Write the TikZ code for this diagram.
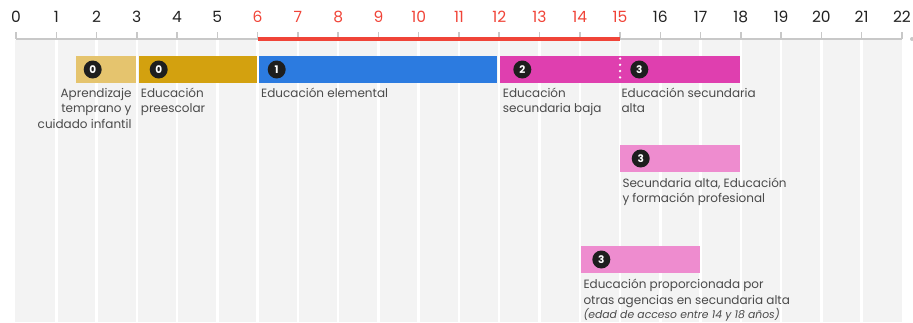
\documentclass[tikz,border=0pt]{standalone}
\usepackage{fontspec}
\setmainfont{Poppins}
\definecolor{stripe}{HTML}{F3F3F3}
\definecolor{axisgray}{HTML}{C8C8C8}
\definecolor{axisred}{HTML}{F04438}
\definecolor{numblack}{HTML}{222222}
\definecolor{labelgray}{HTML}{4A4A4A}
\definecolor{goldlight}{HTML}{E5C46E}
\definecolor{gold}{HTML}{D3A10F}
\definecolor{blueb}{HTML}{2C7BE0}
\definecolor{magentab}{HTML}{DF3FAF}
\definecolor{pinkb}{HTML}{EE8CCF}
\definecolor{badgeblack}{HTML}{1E1E1E}
\tikzset{
  bar/.style={draw=none, inner sep=0pt, outer sep=0pt, minimum height=27pt, anchor=north west},
  badge/.style={circle, fill=badgeblack, text=white, inner sep=0pt, minimum size=18pt, font=\fontsize{10.5}{10.5}\selectfont\bfseries},
  lbl/.style={text=labelgray, inner sep=0pt, font=\fontsize{12}{15.3}\selectfont, align=left, anchor=base west},
  num/.style={text=numblack, inner sep=0pt, font=\fontsize{15.5}{15.5}\selectfont},
}
\begin{document}
\begin{tikzpicture}[x=1pt,y=-1pt]
\useasboundingbox (0,0) rectangle (913,322);
% background stripes
\fill[stripe] (15,40) rectangle (902,322);
\foreach \k in {1,...,21}{
  \draw[white, line width=2.5pt] ({16+40.27*\k},40) -- ({16+40.27*\k},322);
}
% axis
\draw[axisgray, line width=2pt] (16,38.5) -- (901.9,38.5);
\foreach \k in {0,...,22}{
  \draw[axisgray, line width=1.5pt] ({16+40.27*\k},32) -- ({16+40.27*\k},38.5);
}
\fill[axisgray] (912,39) circle (2pt);
\draw[axisred, line width=4pt] (257.6,38.5) -- (620.05,38.5);
% numbers
\foreach \k in {0,...,22}{
  \ifnum\k<6 \def\nc{numblack}\else\ifnum\k>15 \def\nc{numblack}\else\def\nc{axisred}\fi\fi
  \node[num, text=\nc] (n\k) at ({16+40.27*\k},17) {\k};
}
% bars row 1
\node[bar, fill=goldlight, minimum width=59.6pt] (b0a) at (76.4,56) {};
\node[bar, fill=gold, minimum width=117.8pt] (b0b) at (139,56) {};
\node[bar, fill=blueb, minimum width=238pt] (b1) at (259,56) {};
\node[bar, fill=magentab, minimum width=239.5pt] (b23) at (500,56) {};
\foreach \yy in {58.5,64.8,71.1,77.4}{
  \fill[white] (620.05,\yy) circle (1.3pt);
}
% bars row 2, 3
\node[bar, fill=pinkb, minimum width=119.5pt] (b3v) at (620,145) {};
\node[bar, fill=pinkb, minimum width=118.5pt] (b3o) at (581,246) {};
% badges
\node[badge] (c0a) at (92.7,69.5) {0};
\node[badge] (c0b) at (158.7,69.5) {0};
\node[badge] (c1) at (276.7,69.5) {1};
\node[badge] (c2) at (522.3,69.5) {2};
\node[badge] (c3) at (639.3,69.5) {3};
\node[badge] (c3v) at (640.7,158.5) {3};
\node[badge] (c3o) at (601.3,259.5) {3};
% labels (base anchor = baseline of the last line)
\node[lbl, align=right, anchor=base east] (l0a) at (131.7,128.1) {Aprendizaje\\temprano y\\cuidado infantil};
\node[lbl] (l0b) at (140.7,112.8) {Educación\\preescolar};
\node[lbl] (l1) at (261,97.5) {Educación elemental};
\node[lbl] (l2) at (502.7,112.8) {Educación\\secundaria baja};
\node[lbl] (l3) at (621.3,112.8) {Educación secundaria\\alta};
\node[lbl] (l3v) at (622.3,202.6) {Secundaria alta, Educación\\y formación profesional};
\node[lbl] (l3o) at (583.3,304) {Educación proporcionada por\\otras agencias en secundaria alta};
\node[lbl, font=\fontsize{10.8}{12}\selectfont\itshape] (l3oi) at (583.3,318.3) {(edad de acceso entre 14 y 18 años)};
\end{tikzpicture}
\end{document}
